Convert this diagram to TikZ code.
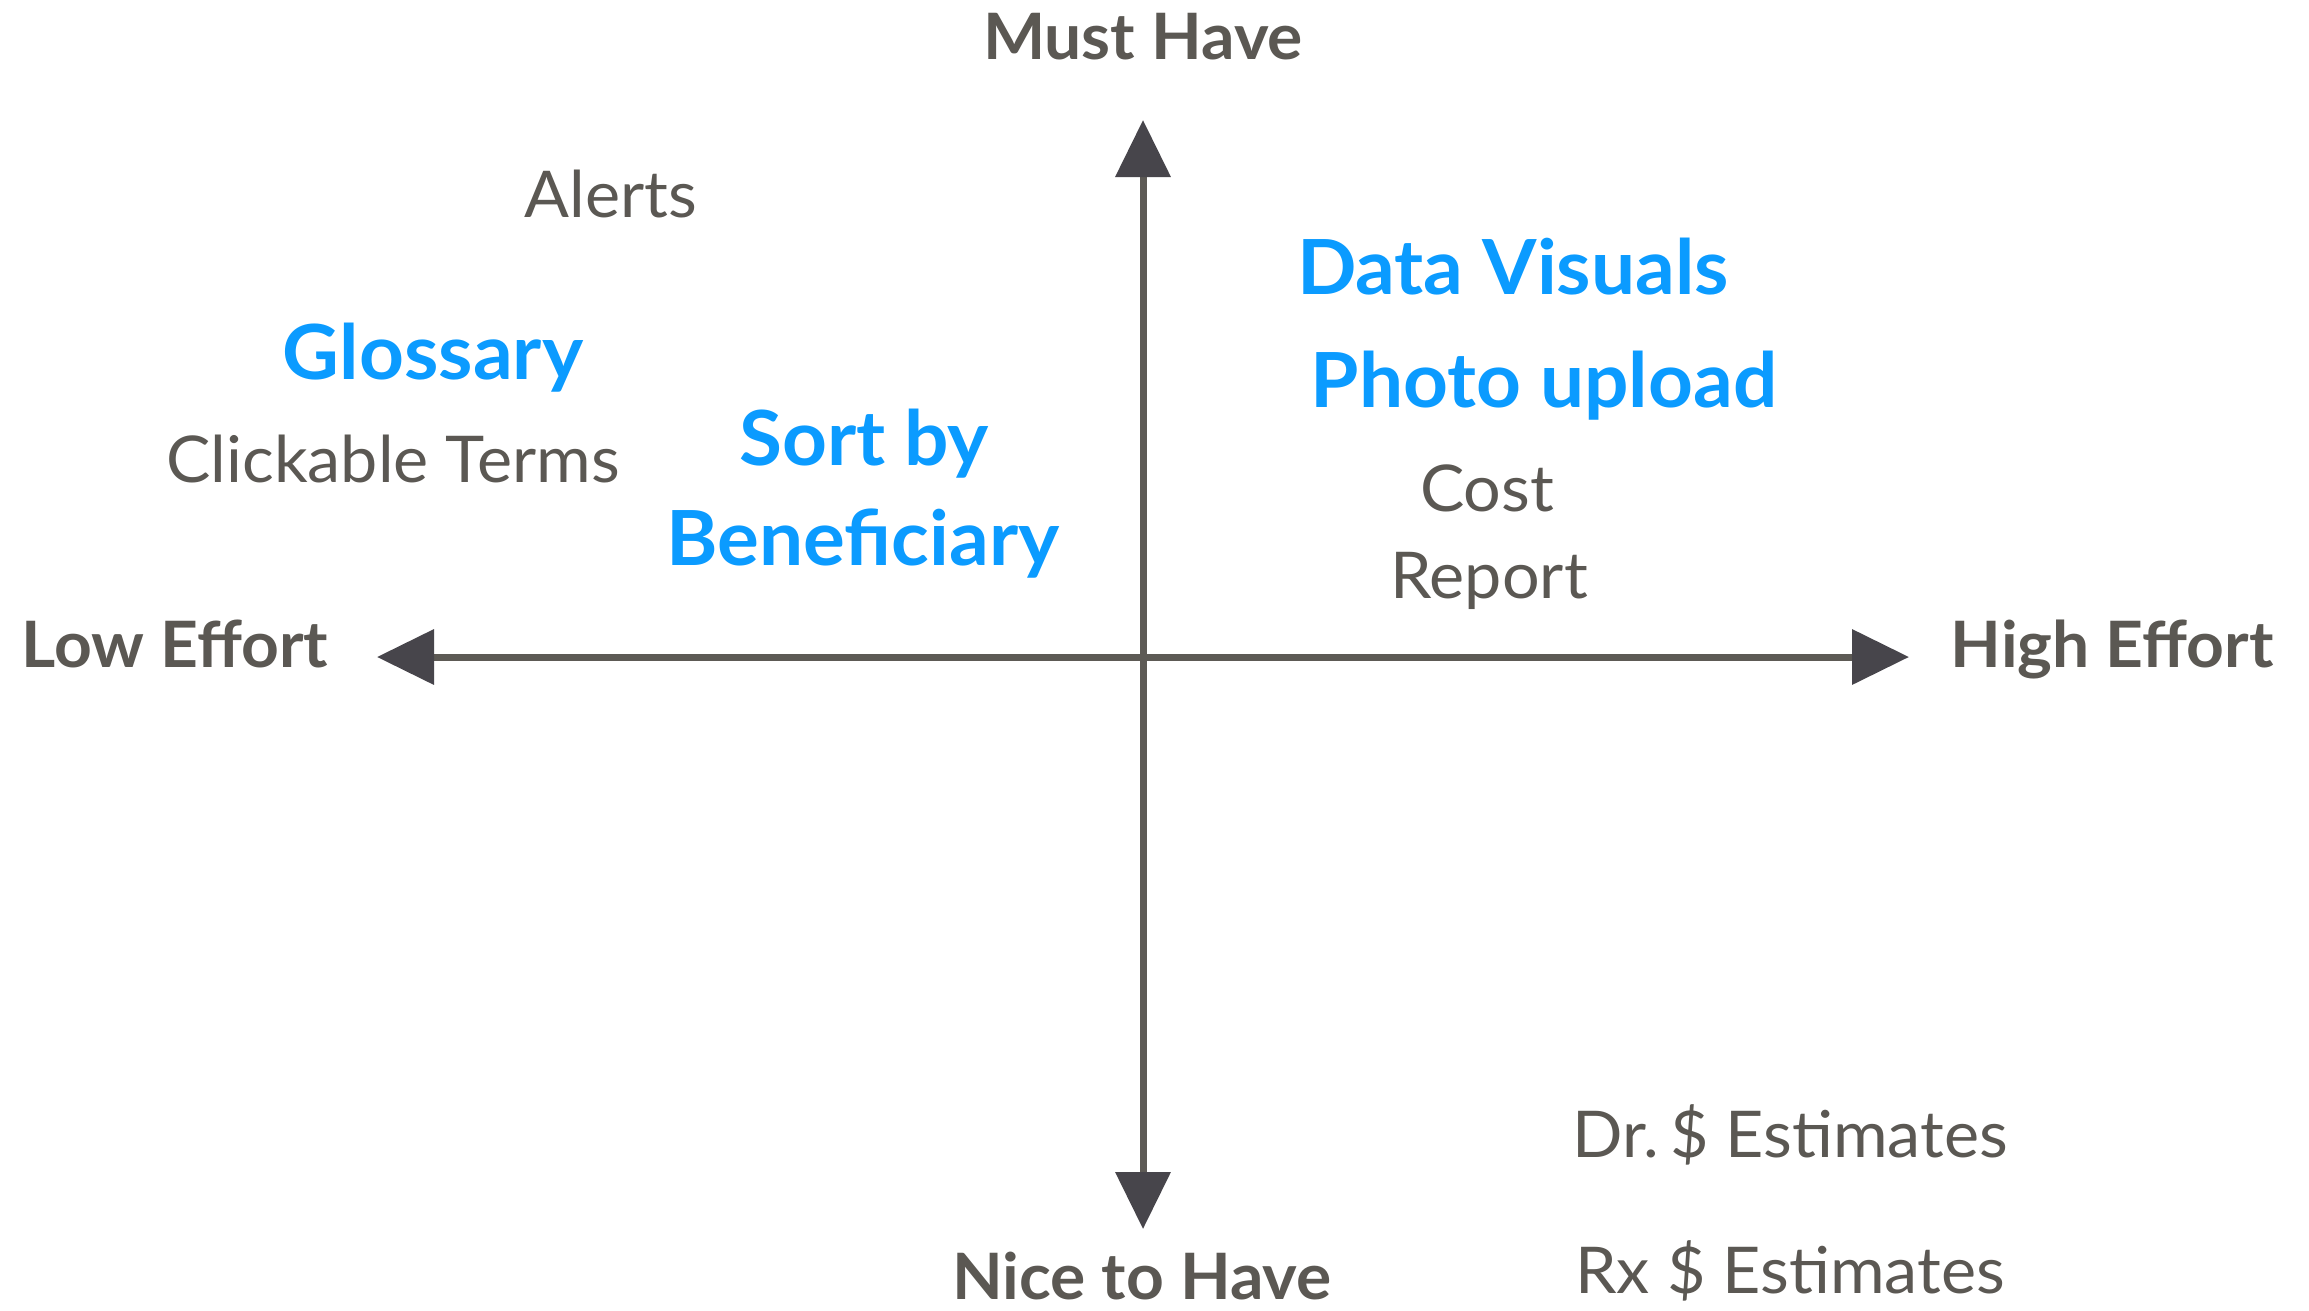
\documentclass[tikz,border=0pt]{standalone}
\usepackage{fontspec}
\setmainfont{Lato}[FakeStretch=1.03]
\usetikzlibrary{arrows.meta}

\definecolor{inkgrey}{HTML}{5B5853}
\definecolor{axisgrey}{HTML}{5D5A55}
\definecolor{tipgrey}{HTML}{47454B}
\definecolor{featureblue}{HTML}{0B9BFF}

\tikzset{
  axis/.style={draw=axisgrey, line width=7pt,
    {Triangle[length=57pt,width=54pt,color=tipgrey]}-{Triangle[length=57pt,width=54pt,color=tipgrey]}},
  lbl/.style={anchor=base, inner sep=0pt, text=inkgrey},
  axislbl/.style={lbl, font=\fontsize{64}{70}\selectfont\bfseries},
  greyitem/.style={lbl, font=\fontsize{64.5}{70}\selectfont},
  blueitem/.style={lbl, text=featureblue, font=\fontsize{76}{82}\selectfont\bfseries},
}

\begin{document}
\begin{tikzpicture}[x=1pt,y=-1pt]
  \useasboundingbox (0,0) rectangle (2309,1310);
  \fill[white] (0,0) rectangle (2309,1310);

  % axis end points
  \coordinate (top) at (1143,120);
  \coordinate (bottom) at (1143,1229);
  \coordinate (left) at (377,657);
  \coordinate (right) at (1909,657);

  \draw[axis] (left) -- (right);
  \draw[axis] (bottom) -- (top);

  % axis labels
  \node[axislbl] (must) at (1143,59) {Must Have};
  \node[axislbl] (nice) at (1142,1299) {Nice to Have};
  \node[axislbl] (low) at (175,667) {Low Effort};
  \node[axislbl] (high) at (2112,667) {High Effort};

  % features
  \node[greyitem] (alerts) at (611,217) {Alerts};
  \node[blueitem] (glossary) at (433,379) {Glossary};
  \node[greyitem] (clickable) at (393,482) {Clickable Terms};
  \node[blueitem] (sortby) at (864,465) {Sort by};
  \node[blueitem] (benef) at (863,565) {Beneficiary};
  \node[blueitem] (datavis) at (1513,294) {Data Visuals};
  \node[blueitem] (photo) at (1544,407) {Photo upload};
  \node[greyitem] (cost) at (1487,511) {Cost};
  \node[greyitem] (report) at (1489,598) {Report};
  \node[greyitem] (drest) at (1790,1157) {Dr.\,\$ Estimates};
  \node[greyitem] (rxest) at (1790,1293) {Rx \$ Estimates};
\end{tikzpicture}
\end{document}
